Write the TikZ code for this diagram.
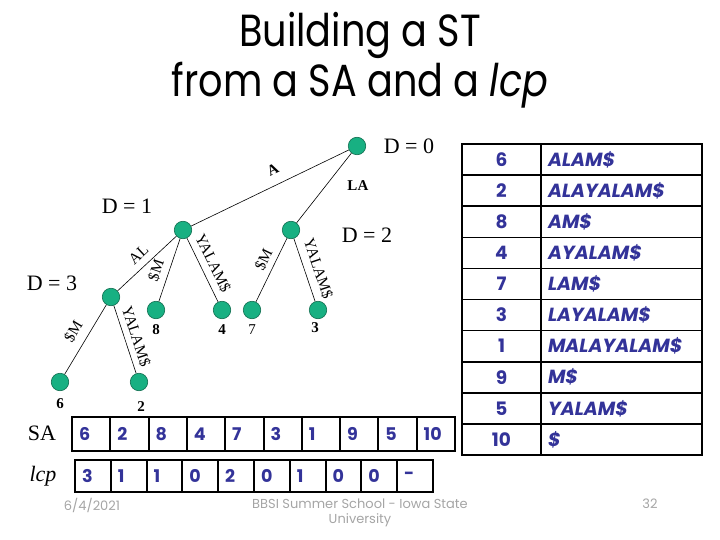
\documentclass[tikz,border=0pt]{standalone}
\usepackage{fontspec}
\setmainfont{Liberation Serif}
\newfontfamily\pop{Poppins}
\definecolor{nodegreen}{RGB}{24,176,130}
\definecolor{nodeedge}{RGB}{16,110,80}
\definecolor{cellblue}{RGB}{51,51,153}
\definecolor{footgray}{RGB}{165,165,165}
\begin{document}
\begin{tikzpicture}[x=1pt,y=-1pt,
  tnode/.style={circle, fill=nodegreen, draw=nodeedge, line width=0.6pt, minimum size=17.5pt, inner sep=0pt},
  tedge/.style={line width=0.6pt},
  elab/.style={font=\fontsize{15.5}{15.5}\selectfont, inner sep=1pt},
  elabb/.style={font=\bfseries\fontsize{15}{15}\selectfont, inner sep=1pt},
  dlab/.style={font=\fontsize{22}{22}\selectfont},
  leaflab/.style={font=\bfseries\fontsize{15}{15}\selectfont},
  leafplain/.style={font=\fontsize{15}{15}\selectfont},
  sacell/.style={draw, line width=2pt, minimum width=38.3pt, minimum height=34pt, inner xsep=7pt, text width=24.3pt, align=left, text=cellblue, font=\pop\bfseries\fontsize{17.5}{17.5}\selectfont},
  lcpcell/.style={draw, line width=2pt, minimum width=35.8pt, minimum height=32pt, inner xsep=7pt, text width=21.8pt, align=left, text=cellblue, font=\pop\bfseries\fontsize{17.5}{17.5}\selectfont},
  numcell/.style={draw, line width=1.6pt, minimum width=79pt, minimum height=31.1pt, inner sep=0pt, text=cellblue, font=\pop\bfseries\fontsize{18.5}{18.5}\selectfont},
  sufcell/.style={draw, line width=1.6pt, minimum width=161pt, minimum height=31.1pt, inner xsep=7pt, inner ysep=0pt, text width=147pt, align=left, text=cellblue, font=\pop\bfseries\itshape\fontsize{19}{19}\selectfont},
  foot/.style={text=footgray, font=\pop\fontsize{13}{15}\selectfont, align=center},
  titl/.style={font=\pop\fontsize{45}{50}\selectfont, align=center, xscale=0.85}
]
\useasboundingbox (0,0) rectangle (720,540);
% title
\node[titl] (title) at (360,60) {Building a ST\\from a SA and a \textit{lcp}};
% tree nodes
\node[tnode] (root) at (357,146) {};
\node[tnode] (d1) at (183,230) {};
\node[tnode] (d2) at (291,230) {};
\node[tnode] (d3) at (111,297) {};
\node[tnode] (l8) at (156,310) {};
\node[tnode] (l4) at (222,310) {};
\node[tnode] (l7) at (252,310) {};
\node[tnode] (l3) at (318,310) {};
\node[tnode] (l6) at (60,382) {};
\node[tnode] (l2) at (139,382) {};
% edges
\draw[tedge] (root) -- node[elabb, sloped, pos=0.44, above=9pt] (eA) {A} (d1);
\draw[tedge] (root) -- node[elabb, pos=0.46, right=20pt] (eLA) {LA} (d2);
\draw[tedge] (d1) -- node[elab, sloped, pos=0.5, above=6pt] (eAL) {AL} (d3);
\draw[tedge] (d1) -- node[elab, sloped, pos=0.57, above=5pt] (eM1) {\$M} (l8);
\draw[tedge] (d1) -- node[elab, sloped, pos=0.48, above=5pt] (eY1) {YALAM\$} (l4);
\draw[tedge] (d2) -- node[elab, sloped, pos=0.42, above=4pt] (eM2) {\$M} (l7);
\draw[tedge] (d2) -- node[elab, sloped, pos=0.55, above=6pt] (eY2) {YALAM\$} (l3);
\draw[tedge] (d3) -- node[elab, sloped, pos=0.49, above=7pt] (eM3) {\$M} (l6);
\draw[tedge] (d3) -- node[elab, sloped, pos=0.51, above=4pt] (eY3) {YALAM\$} (l2);
% depth labels
\node[dlab] (D0) at (409,146) {D = 0};
\node[dlab] (D1) at (127,206) {D = 1};
\node[dlab] (D2) at (367,235) {D = 2};
\node[dlab] (D3) at (52,283) {D = 3};
% leaf labels
\node[leaflab] (t8) at (156,330) {8};
\node[leaflab] (t4) at (222,330) {4};
\node[leafplain] (t7) at (252,330) {7};
\node[leaflab] (t3) at (315,328) {3};
\node[leaflab] (t6) at (60,404) {6};
\node[leaflab] (t2) at (141,407) {2};
% SA
\node[font=\fontsize{22}{22}\selectfont] (salab) at (42,433) {SA};
\foreach \v [count=\i] in {6,2,8,4,7,3,1,9,5,10}
  \node[sacell] (sa\i) at ({72+38.3*(\i-0.5)},434) {\v};
% lcp
\node[font=\itshape\fontsize{22}{22}\selectfont] (lcplab) at (43,476) {lcp};
\foreach \v [count=\i] in {3,1,1,0,2,0,1,0,0,-}
  \node[lcpcell] (lcp\i) at ({75+35.8*(\i-0.5)},476) {\v};
% right table
\foreach \n/\s [count=\i] in {6/ALAM\$,2/ALAYALAM\$,8/AM\$,4/AYALAM\$,7/LAM\$,3/LAYALAM\$,1/MALAYALAM\$,9/M\$,5/YALAM\$,10/\$} {
  \node[numcell] (num\i) at (501.5,{144+31.1*(\i-0.5)}) {\n};
  \node[sufcell] (suf\i) at (621.5,{144+31.1*(\i-0.5)}) {\s};
}
% footer
\node[foot] (date) at (92,505) {6/4/2021};
\node[foot] (school) at (360,513) {BBSI Summer School - Iowa State\\University};
\node[foot] (page) at (650,504) {32};
\end{tikzpicture}
\end{document}
